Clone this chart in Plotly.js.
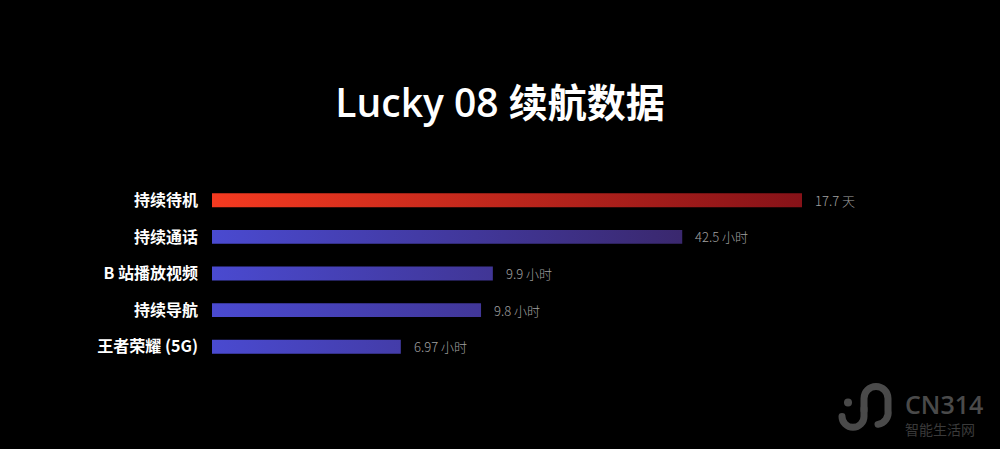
<!DOCTYPE html>
<html>
<head>
<meta charset="utf-8">
<script src="https://cdn.plot.ly/plotly-3.0.1.min.js"></script>
<style>html,body{margin:0;padding:0;background:#000;}#chart{width:1000px;height:449px;}</style>
</head>
<body>
<div id="chart"></div>
<script>
// ---- data ----
const categories = ["持续待机", "持续通话", "B 站播放视频", "持续导航", "王者荣耀 (5G)"];
const values = [17.7, 42.5, 9.9, 9.8, 6.97];
const units = ["天", "小时", "小时", "小时", "小时"];
// bar lengths as drawn (relative scale, longest = 100)
const barLengths = [100, 79.7, 47.6, 45.6, 32.0];
const titleText = "Lucky 08 续航数据";

// ---- styles ----
const redScale = [[0, "#f43a20"], [1, "#861218"]];
const blueScale = [[0, "#4a4ad0"], [1, "#3a286e"]];
const halfH = 0.19;
const cjk = "'Noto Sans CJK SC', 'Noto Sans', sans-serif";
const titleFamily = "'Open Sans', 'Noto Sans CJK SC', sans-serif";

const traces = categories.map((c, i) => {
  const L = barLengths[i];
  return {
    type: "scatter",
    mode: "lines",
    x: [0, L, L, 0, 0],
    y: [i - halfH, i - halfH, i + halfH, i + halfH, i - halfH],
    fill: "toself",
    line: {width: 0, color: "rgba(0,0,0,0)"},
    fillgradient: {
      type: "horizontal",
      colorscale: i === 0 ? redScale : blueScale,
      start: 0,
      stop: i === 0 ? barLengths[0] : barLengths[1]
    },
    hoverinfo: "skip",
    showlegend: false
  };
});

// plot area in pixels
const L0 = 212, R0 = 802, T0 = 181.6, B0 = 365.4;
const px = x => (x - L0) / (R0 - L0);
const py = y => (B0 - y) / (B0 - T0);

const annotations = categories.map((c, i) => ({
  x: barLengths[i], y: i, xref: "x", yref: "y",
  text: values[i] + " " + units[i],
  showarrow: false, xanchor: "left", yanchor: "middle", xshift: 11,
  font: {family: cjk, size: 13, color: "#a0a0a0", weight: 300}
}));

annotations.push({
  x: px(903), y: py(405), xref: "paper", yref: "paper",
  text: "CN314", showarrow: false, xanchor: "left", yanchor: "middle",
  font: {family: "'Open Sans', sans-serif", size: 25, color: "#4a4a4a", weight: 600}
});
annotations.push({
  x: px(903), y: py(430), xref: "paper", yref: "paper",
  text: "智能生活网", showarrow: false, xanchor: "left", yanchor: "middle",
  font: {family: cjk, size: 14, color: "#3a3a3a"}
});

const logoSvg = '<svg xmlns="http://www.w3.org/2000/svg" width="60" height="54" viewBox="0 0 60 54">' +
  '<path d="M8 36 A11 11 0 0 0 30 36 L30 28" fill="none" stroke="#4a4a4a" stroke-width="7" stroke-linecap="round"/>' +
  '<path d="M30 30 L30 18 A12 12 0 0 1 54 18 L54 30 A12 12 0 0 1 44 44" fill="none" stroke="#4a4a4a" stroke-width="7" stroke-linecap="round"/>' +
  '<circle cx="14" cy="22" r="4" fill="#4a4a4a"/></svg>';

const layout = {
  width: 1000, height: 449,
  paper_bgcolor: "#000", plot_bgcolor: "#000",
  margin: {l: L0, r: 1000 - R0, t: T0, b: 449 - B0, pad: 0},
  title: {
    text: titleText, x: 0.5, xref: "container", xanchor: "center",
    y: 1 - 103 / 449, yref: "container", yanchor: "middle",
    font: {family: titleFamily, size: 39, color: "#ffffff", weight: 600}
  },
  xaxis: {range: [0, 100], visible: false, fixedrange: true},
  yaxis: {
    range: [4.5, -0.5], tickmode: "array",
    tickvals: categories.map((c, i) => i), ticktext: categories,
    showgrid: false, zeroline: false, showline: false, ticks: "",
    ticklabelstandoff: 13,
    tickfont: {family: cjk, size: 16, color: "#ffffff", weight: 600}
  },
  annotations: annotations,
  images: [{
    source: "data:image/svg+xml;charset=utf-8," + encodeURIComponent(logoSvg),
    xref: "paper", yref: "paper", x: px(834), y: py(381),
    sizex: 60 / (R0 - L0), sizey: 54 / (B0 - T0),
    xanchor: "left", yanchor: "top", sizing: "stretch", layer: "above"
  }],
  showlegend: false
};

Plotly.newPlot("chart", traces, layout, {displayModeBar: false, staticPlot: true});
</script>
</body>
</html>
